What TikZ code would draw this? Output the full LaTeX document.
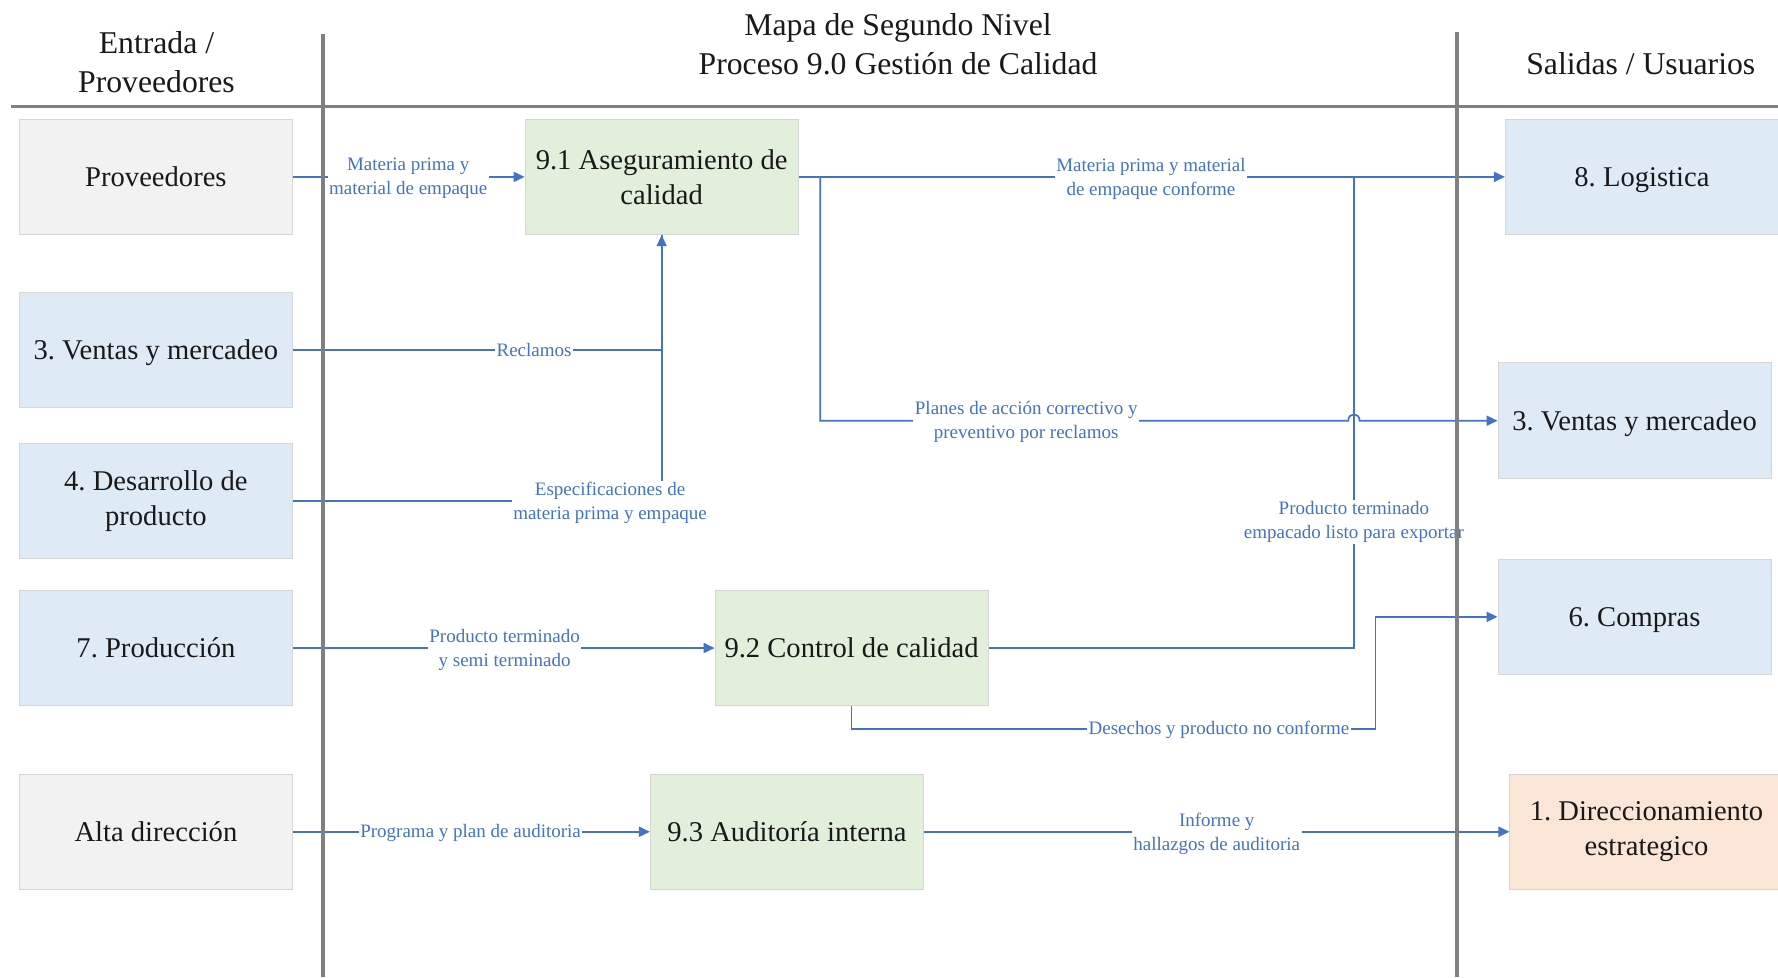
\documentclass[tikz,border=0pt]{standalone}
\usepackage{fontspec}
\setmainfont{Liberation Serif}
\usetikzlibrary{arrows.meta,calc}
\definecolor{lineblue}{HTML}{4472C4}
\definecolor{boxgray}{HTML}{F2F2F2}
\definecolor{boxblue}{HTML}{DEEBF7}
\definecolor{boxgreen}{HTML}{E2EFDA}
\definecolor{boxorange}{HTML}{FBE5D6}
\definecolor{rulegray}{HTML}{808080}
\definecolor{edgegray}{HTML}{D6D6D6}
\frenchspacing
\begin{document}
\begin{tikzpicture}[x=1.134pt,y=-1.134pt,
  box/.style={draw=edgegray,line width=1pt,minimum width=273pt,minimum height=115.5pt,
    align=center,inner sep=2pt,text=black!90,font=\fontsize{28.6}{35}\selectfont},
  oneline/.style={text height=25pt,text depth=6pt},
  graybox/.style={box,fill=boxgray},
  bluebox/.style={box,fill=boxblue},
  greenbox/.style={box,fill=boxgreen},
  orangebox/.style={box,fill=boxorange},
  conn/.style={draw=lineblue,line width=1.7pt},
  flow/.style={conn,-{Triangle[length=11pt,width=10pt]}},
  lbl/.style={fill=white,inner sep=1.5pt,align=center,text=lineblue,
    font=\fontsize{19}{24}\selectfont},
  head/.style={align=center,text=black!90,font=\fontsize{31.7}{38.5}\selectfont},
  rule/.style={draw=rulegray,line width=3.6pt}
]
\useasboundingbox (0,0) rectangle (1568,862);
\fill[white] (0,0) rectangle (1568,862);

% column headings
\node[head] (hin)  at (138,55)  {Entrada /\\Proveedores};
\node[head] (hmid) at (792,39)  {Mapa de Segundo Nivel\\Proceso 9.0 Gestión de Calidad};
\node[head] (hout) at (1447,56) {Salidas / Usuarios};

% suppliers (left column)
\node[graybox,oneline] (prov) at (137.5,156)   {Proveedores};
\node[bluebox,oneline] (vent) at (137.5,308.5) {3. Ventas y mercadeo};
\node[bluebox]         (desa) at (137.5,442)   {4. Desarrollo de\\producto};
\node[bluebox,oneline] (prod) at (137.5,571.5) {7. Producción};
\node[graybox,oneline] (alta) at (137.5,733.5) {Alta dirección};

% sub-processes (middle column)
\node[greenbox]        (a91) at (583.5,156)  {9.1 Aseguramiento de\\calidad};
\node[greenbox,oneline] (c92) at (751,571.5) {9.2 Control de calidad};
\node[greenbox,oneline] (a93) at (694,733.5) {9.3 Auditoría interna};

% users (right column)
\node[bluebox,oneline] (log)  at (1448,156)    {8. Logistica};
\node[bluebox,oneline] (ven2) at (1441.5,371)  {3. Ventas y mercadeo};
\node[bluebox,oneline] (comp) at (1441.5,544)  {6. Compras};
\node[orangebox]       (dir)  at (1452,733.5)  {1. Direccionamiento\\estrategico};

% junction points
\coordinate (br) at ($(a91.east)+(19,0)$);
\coordinate (j1) at (1194,156);
\coordinate (d1) at (1213,643);

% connectors
\draw[flow] (prov.east) -- (a91.west);
\draw[conn] (vent.east) -| (a91.south);
\draw[flow] (desa.east) -| (a91.south);
\draw[flow] (a91.east) -- (log.west);
\draw[conn] (c92.east) -| (j1);
\draw[flow] (br) |- (1189,371) .. controls (1189,363.5) and (1199,363.5) .. (1199,371) -- (ven2.west);
\draw[flow] (prod.east) -- (c92.west);
\draw[flow] (c92.south) |- (d1) |- (comp.west);
\draw[flow] (alta.east) -- (a93.west);
\draw[flow] (a93.east) -- (dir.west);

% connector labels
\node[lbl] (l1)  at (360,157.5)   {Materia prima y\\material de empaque};
\node[lbl] (l2)  at (471,309)     {Reclamos};
\node[lbl] (l3)  at (538,443.5)   {Especificaciones de\\materia prima y empaque};
\node[lbl] (l4)  at (1015,157.5)  {Materia prima y material\\de empaque conforme};
\node[lbl] (l5)  at (905,372.5)   {Planes de acción correctivo y\\preventivo por reclamos};
\node[lbl] (l6)  at (1194,460.5)  {Producto terminado\\empacado listo para exportar};
\node[lbl] (l7)  at (445,573)     {Producto terminado\\y semi terminado};
\node[lbl] (l8)  at (1075,644)    {Desechos y producto no conforme};
\node[lbl] (l9)  at (415,734.5)   {Programa y plan de auditoria};
\node[lbl] (l10) at (1073,735)    {Informe y\\hallazgos de auditoria};

% swimlane rules
\draw[rule] (10,94) -- (1568,94);
\draw[rule] (285,30) -- (285,862);
\draw[rule] (1285,28) -- (1285,862);
\end{tikzpicture}
\end{document}
